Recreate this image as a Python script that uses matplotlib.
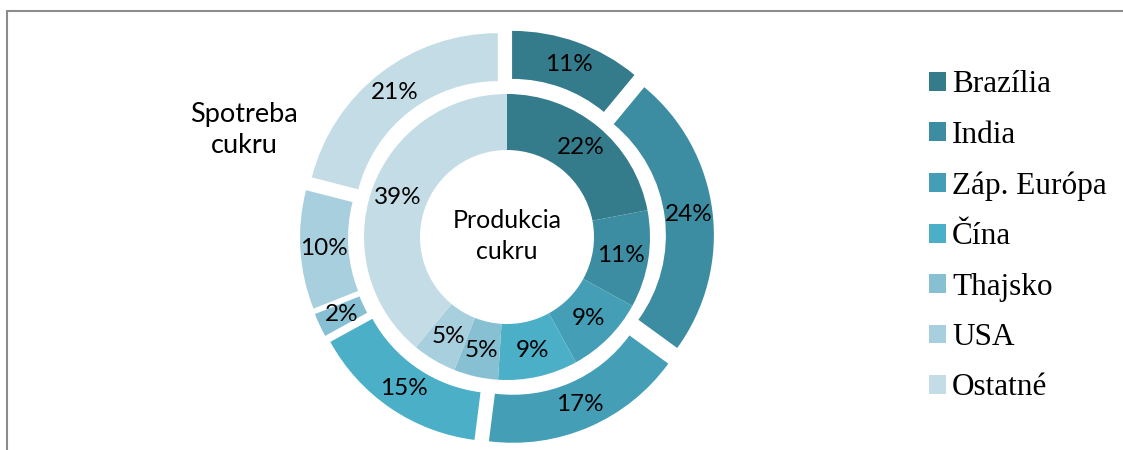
import numpy as np
import matplotlib
matplotlib.use('Agg')
import matplotlib.pyplot as plt
from matplotlib.patches import Patch

# data
countries = ['Brazília', 'India', 'Záp. Európa', 'Čína', 'Thajsko', 'USA', 'Ostatné']
produkcia = [22, 11, 9, 9, 5, 5, 39]
spotreba = [11, 24, 17, 15, 2, 10, 21]
colors = ['#347B8B', '#3C8CA2', '#449FB6', '#4BAFC7', '#86C0D2', '#A8CFDD', '#C3DCE5']

fig = plt.figure(figsize=(11.23, 4.5), dpi=100)
ax = fig.add_axes([0, 0, 1, 1])

cx, cy = 507, 213
lab_font = dict(family='Lato', size=17.5, color='black')

# outer ring - consumption (exploded)
ax.pie(spotreba, colors=colors, radius=192, center=(cx, cy), startangle=90,
       counterclock=False, explode=[15] * len(spotreba),
       wedgeprops=dict(width=48, linewidth=0),
       autopct='%d%%', pctdistance=0.875, textprops=lab_font, frame=True)

# inner ring - production
ax.pie(produkcia, colors=colors, radius=143, center=(cx, cy), startangle=90,
       counterclock=False, wedgeprops=dict(width=56, linewidth=0),
       autopct='%d%%', pctdistance=0.81, textprops=lab_font, frame=True)

ax.set_xlim(0, 1123)
ax.set_ylim(0, 450)
ax.set_aspect('auto')
ax.axis('off')

ax.text(cx, cy + 1, 'Produkcia\ncukru', ha='center', va='center',
        family='Lato', size=18, linespacing=1.4)
ax.text(244, 320, 'Spotreba\ncukru', ha='center', va='center',
        family='Lato', size=19.5, linespacing=1.3)

# frame lines
ax.plot([7, 7, 1123], [0, 439, 439], color='#8c8c8c', linewidth=1.5,
        solid_joinstyle='miter')

handles = [Patch(facecolor=c, edgecolor='none') for c in colors]
ax.legend(handles, countries, loc='upper left', bbox_to_anchor=(916 / 1123, 1 - 58 / 450),
          frameon=False, prop=dict(family='Liberation Serif', size=22.5),
          handlelength=0.55, handleheight=0.55, handletextpad=0.2, labelspacing=0.685,
          borderaxespad=0)

fig.savefig('out.png', dpi=100)
